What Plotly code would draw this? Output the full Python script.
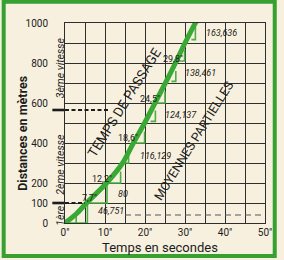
import plotly.graph_objects as go

# ---------------- data ----------------
# acceleration curve: time (s) vs distance (m)
curve_t = [0, 2.8, 5.4, 10.4, 14.4, 17.1, 19.9, 22.5, 25.1, 27.6, 30.0, 32.6, 33.0]
curve_d = [0, 45, 100, 200, 300, 400, 500, 600, 700, 800, 900, 1000, 1012]

# small slope triangles along the curve (horizontal leg, then vertical leg)
tri_t0 = [0, 2.8, 5.8, 10.9, 14.8, 17.3, 21.4, 23.0, 26.6, 28.6, 31.6]
tri_t1 = [2.8, 5.6, 10.5, 13.9, 15.9, 19.9, 22.6, 25.0, 27.7, 29.9, 32.6]
tri_d0 = [0, 0, 100, 200, 300, 400, 508, 600, 708, 810, 917]
tri_d1 = [35, 100, 200, 258, 350, 458, 562, 658, 760, 865, 980]

# passage times and partial average speeds
passage_labels = ['7,7"', '12,2"', '18,6"', '24,5"', '29,8"', '34,4"']
speed_labels = ['46,751', '80', '116,129', '124,137', '138,461', '163,636']

# gear change distances and where their dashed marks stop
shift_d = [100, 565]
shift_t_end = [5.0, 11.3]
low_dash_d = [40]
low_dash_t = [15.0, 50.0]

# axis ticks
x_tickvals = [0, 5, 10, 15, 20, 25, 30, 35, 40, 45, 50]
x_ticktext = ['0"', '', '10"', '', '20"', '', '30"', '', '40"', '', '50"']
y_tickvals = [0, 100, 200, 300, 400, 500, 600, 700, 800, 900, 1000]
y_ticktext = ['0', '100', '200', '', '400', '', '600', '', '800', '', '1000']

# ---------------- layout constants ----------------
W, H = 284, 260
PL, PR, PT, PB = 65, 270.5, 23.3, 223.5
BG = '#f7f0de'
GREEN = '#3aa834'
TRI_GREEN = '#49b043'
BORDER = '#36a030'
INK = '#1c1c1c'
FONT = 'Roboto'


def px_x(p):
    return (p - PL) / (PR - PL)


def px_y(p):
    return (PB - p) / (PB - PT)


# label positions (data coords)
passage_pos = [(6.2, 127), (9.2, 221), (15.7, 426), (21.3, 622), (27.0, 822), (32.4, 1042)]
speed_pos = [(11.6, 59), (14.4, 146), (22.6, 337), (29.1, 540), (33.9, 751), (39.2, 951)]

fig = go.Figure()

# triangles
tx, ty = [], []
for a, b, c, d in zip(tri_t0, tri_t1, tri_d0, tri_d1):
    tx += [a, b, b, None]
    ty += [c, c, d, None]
fig.add_trace(go.Scatter(x=tx, y=ty, mode='lines',
                         line=dict(color=TRI_GREEN, width=1.6),
                         hoverinfo='skip', showlegend=False))

# main curve
fig.add_trace(go.Scatter(x=curve_t, y=curve_d, mode='lines',
                         line=dict(color=GREEN, width=5, shape='spline', smoothing=0.8),
                         hoverinfo='skip', showlegend=False))

shapes = []
# gear change marks
for d, te in zip(shift_d, shift_t_end):
    shapes.append(dict(type='line', xref='paper', yref='y',
                       x0=px_x(52), x1=px_x(64), y0=d, y1=d,
                       line=dict(color=INK, width=2.6)))
    shapes.append(dict(type='line', xref='x', yref='y',
                       x0=0, x1=te, y0=d, y1=d,
                       line=dict(color=INK, width=1.8, dash='4px,2.5px')))
for d in low_dash_d:
    shapes.append(dict(type='line', xref='x', yref='y',
                       x0=low_dash_t[0], x1=low_dash_t[1], y0=d, y1=d,
                       line=dict(color='#555555', width=1.1, dash='6px,4px')))
# green frame
shapes.append(dict(type='rect', xref='paper', yref='paper',
                   x0=px_x(2), x1=px_x(280.5), y0=px_y(256.5), y1=px_y(2),
                   line=dict(color=BORDER, width=4), layer='below'))

annotations = []


def ann(**kw):
    base = dict(showarrow=False, xanchor='center', yanchor='middle')
    base.update(kw)
    annotations.append(base)


for txt, (t, d) in zip(passage_labels, passage_pos):
    ann(x=t, y=d, xref='x', yref='y', text=txt,
        font=dict(family=FONT, size=9, color=INK))
for txt, (t, d) in zip(speed_labels, speed_pos):
    ann(x=t, y=d, xref='x', yref='y', text='<i>' + txt + '</i>',
        font=dict(family=FONT, size=9, color=INK))

ann(x=14.8, y=606, xref='x', yref='y', text='TEMPS DE PASSAGE', textangle=-58,
    font=dict(family=FONT, size=13.5, color=INK))
ann(x=32.2, y=411, xref='x', yref='y', text='MOYENNES PARTIELLES', textangle=-58,
    font=dict(family=FONT, size=12.5, color=INK))

# gear names
for txt, yc in [('1ère', 216), ('2ème vitesse', 165), ('3ème vitesse', 68.5)]:
    ann(x=px_x(60), y=px_y(yc), xref='paper', yref='paper',
        text='<i>' + txt + '</i>', textangle=-90,
        font=dict(family=FONT, size=10.5, color=INK))

# axis titles
ann(x=px_x(21), y=px_y(134), xref='paper', yref='paper',
    text='<b>Distances en mètres</b>', textangle=-90,
    font=dict(family=FONT, size=12.5, color=INK))
ann(x=px_x(163), y=px_y(248), xref='paper', yref='paper',
    text='Temps en secondes',
    font=dict(family=FONT, size=13, color=INK))

axis_common = dict(showgrid=True, gridcolor='#2e2e2e', gridwidth=1,
                   showline=True, mirror=True, linecolor='#2e2e2e', linewidth=1,
                   zeroline=False, ticks='', tickfont=dict(family=FONT, size=10, color=INK),
                   fixedrange=True)

fig.update_layout(
    width=W, height=H, autosize=False,
    margin=dict(l=PL, r=W - PR, t=PT, b=H - PB, pad=0),
    paper_bgcolor=BG, plot_bgcolor=BG,
    xaxis=dict(range=[0, 50], tickmode='array', tickvals=x_tickvals, ticktext=x_ticktext,
               ticklabelstandoff=0, **axis_common),
    yaxis=dict(range=[0, 1000], tickmode='array', tickvals=y_tickvals, ticktext=y_ticktext,
               ticklabelstandoff=14, **axis_common),
    shapes=shapes, annotations=annotations, showlegend=False,
)

fig.write_html('out.html')
